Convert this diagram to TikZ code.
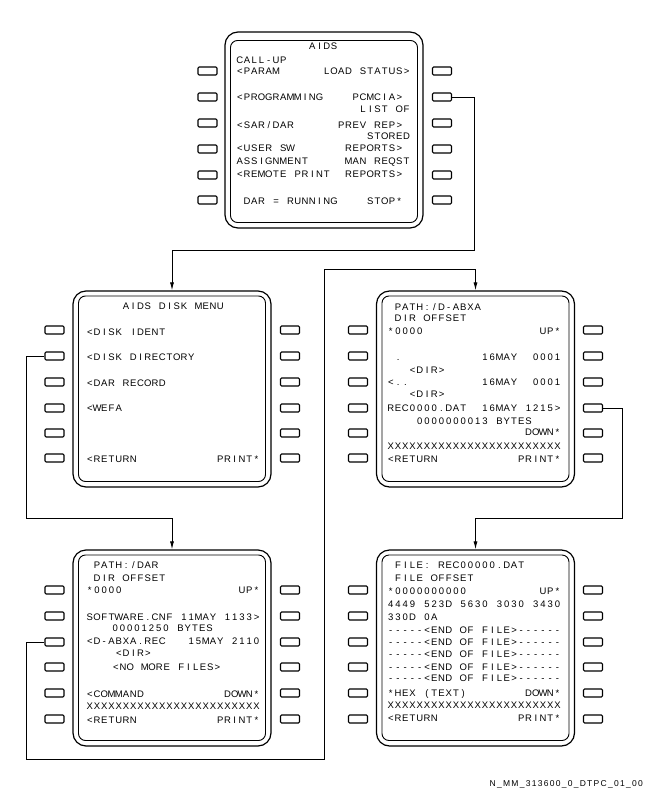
\documentclass[tikz,border=0pt]{standalone}
\usepackage{fontspec}
\newfontfamily\cdufam{Liberation Sans}
\newfontfamily\labfam[LetterSpace=15]{Liberation Sans}
\newcommand\cdufont{\cdufam\fontsize{9.5}{11}\selectfont}
\newcommand\monopitch{7.25pt}
\ExplSyntaxOn
\NewDocumentCommand \mono { m }
  { \str_map_inline:nn {#1} { \makebox[\monopitch]{##1} } }
\ExplSyntaxOff
\usetikzlibrary{arrows.meta}
\tikzset{
  outerframe/.style={draw, line width=1.2pt, rounded corners=13pt, minimum width=198pt, minimum height=196pt, inner sep=0pt},
  innerframe/.style={draw, line width=0.9pt, rounded corners=7pt, minimum width=187pt, inner sep=0pt},
  btn/.style={draw, line width=1.1pt, rounded corners=1.2pt, minimum width=19pt, minimum height=8pt, inner sep=0pt},
  conn/.style={line width=0.9pt},
  arr/.style={conn, -{Latex[length=8pt,width=4pt]}},
  L/.style={anchor=base west, inner sep=0pt, font=\cdufont},
}
% \mkpanel{name}{cx}{cy}{gap between outer and inner frame at the top}
\newcommand\mkpanel[4]{%
  \node[outerframe] (#1) at (#2,#3) {};
  \node[innerframe, minimum height={190.5pt-#4pt}] (#1-in) at (#2,{#3+(#4-5.5)/2}) {};}
\newcommand\mkbuttons[4]{%
  \foreach \yy [count=\ii] in {#4} {
    \node[btn] (#1-l\ii) at (#2,\yy) {};
    \node[btn] (#1-r\ii) at (#3,\yy) {};
  }}
% \tx{name}{x0}{column}{baseline y}{text}
\newcommand\tx[5]{\node[L] (#1) at (#2+7.25*#3,#4) {\mono{#5}};}
\begin{document}
\begin{tikzpicture}[x=1pt,y=-1pt]
\useasboundingbox (0,0) rectangle (648,792);
% panels
\mkpanel{t}{324}{130}{8.5}
\mkpanel{ml}{172}{389}{5}
\mkpanel{mr}{475.5}{389}{5}
\mkpanel{bl}{172}{648}{5}
\mkpanel{br}{475.5}{648}{5}
\mkbuttons{t}{207.5}{442}{71,97,123,149,175,200}
\mkbuttons{ml}{54.5}{290}{330,356,382,408,433,458}
\mkbuttons{mr}{358}{593}{330,356,382,408,433,458}
\mkbuttons{bl}{54.5}{290}{590,616,642,667,693,719}
\mkbuttons{br}{358}{593}{590,616,642,667,693,719}

% connectors
\coordinate (k1) at (474,250);
\coordinate (k2) at (26,518);
\coordinate (k3) at (26,759);
\coordinate (k4) at (324,269);
\coordinate (k5) at (622,518);
\draw[arr] (t-r2.east) -| (k1) -| (ml.north);
\draw[arr] (ml-l2.west) -| (k2) -| (bl.north);
\draw[arr] (bl-l3.west) -| (k3) -| (k4) -| (mr.north);
\draw[arr] (mr-r4.east) -| (k5) -| (br.north);

% top panel text (grid origin 236)
\tx{t1}{236}{10}{50}{AIDS}
\tx{t2}{236}{0}{63.5}{CALL-UP}
\tx{t3}{236}{0}{74.5}{<PARAM}
\tx{t4}{236}{12}{74.5}{LOAD STATUS>}
\tx{t5}{236}{0}{100.5}{<PROGRAMMING}
\tx{t6}{236}{16}{100.5}{PCMCIA>}
\tx{t7}{236}{17}{112.5}{LIST OF}
\tx{t8}{236}{0}{128.5}{<SAR/DAR}
\tx{t9}{236}{14}{128.5}{PREV REP>}
\tx{t10}{236}{18}{139.5}{STORED}
\tx{t11}{236}{0}{151.5}{<USER SW}
\tx{t12}{236}{15}{151.5}{REPORTS>}
\tx{t13}{236}{0}{164.5}{ASSIGNMENT}
\tx{t14}{236}{15}{164.5}{MAN REQST}
\tx{t15}{236}{0}{177.5}{<REMOTE PRINT}
\tx{t16}{236}{15}{177.5}{REPORTS>}
\tx{t17}{236}{1}{204.5}{DAR = RUNNING}
\tx{t18}{236}{18}{204.5}{STOP*}

% middle left (grid origin 86)
\tx{a1}{86}{5}{309.5}{AIDS DISK MENU}
\tx{a2}{86}{0}{335.5}{<DISK IDENT}
\tx{a3}{86}{0}{360.5}{<DISK DIRECTORY}
\tx{a4}{86}{0}{386.5}{<DAR RECORD}
\tx{a5}{86}{0}{411.5}{<WEFA}
\tx{a6}{86}{0}{462.5}{<RETURN}
\tx{a7}{86}{18}{462.5}{PRINT*}

% middle right (grid origin 387)
\tx{b1}{387}{1}{310.5}{PATH:/D-ABXA}
\tx{b2}{387}{1}{321.5}{DIR OFFSET}
\tx{b3}{387}{0}{334.5}{*0000}
\tx{b4}{387}{21}{334.5}{UP*}
\tx{b5}{387}{1}{360.5}{.}
\tx{b6}{387}{13}{360.5}{16MAY}
\tx{b7}{387}{20}{360.5}{0001}
\tx{b8}{387}{3}{373.5}{<DIR>}
\tx{b9}{387}{0}{385.5}{<..}
\tx{b10}{387}{13}{385.5}{16MAY}
\tx{b11}{387}{20}{385.5}{0001}
\tx{b12}{387}{3}{397.5}{<DIR>}
\tx{b13}{387}{0}{411.5}{REC0000.DAT}
\tx{b14}{387}{13}{411.5}{16MAY}
\tx{b15}{387}{19}{411.5}{1215>}
\tx{b16}{387}{4}{424.5}{0000000013 BYTES}
\tx{b17}{387}{19}{435.5}{DOWN*}
\tx{b18}{387}{0}{449.5}{XXXXXXXXXXXXXXXXXXXXXXXX}
\tx{b19}{387}{0}{462.5}{<RETURN}
\tx{b20}{387}{18}{462.5}{PRINT*}

% bottom left (grid origin 86)
\tx{c1}{86}{1}{568.5}{PATH:/DAR}
\tx{c2}{86}{1}{581.5}{DIR OFFSET}
\tx{c3}{86}{0}{593.5}{*0000}
\tx{c4}{86}{21}{593.5}{UP*}
\tx{c5}{86}{0}{620.5}{SOFTWARE.CNF}
\tx{c6}{86}{13}{620.5}{11MAY}
\tx{c7}{86}{19}{620.5}{1133>}
\tx{c8}{86}{3.5}{631.5}{00001250 BYTES}
\tx{c9}{86}{0}{644.5}{<D-ABXA.REC}
\tx{c10}{86}{14}{644.5}{15MAY}
\tx{c11}{86}{20}{644.5}{2110}
\tx{c12}{86}{4}{656.5}{<DIR>}
\tx{c13}{86}{3.6}{670.5}{<NO MORE FILES>}
\tx{c14}{86}{0}{697.5}{<COMMAND}
\tx{c15}{86}{19}{697.5}{DOWN*}
\tx{c16}{86}{0}{709.5}{XXXXXXXXXXXXXXXXXXXXXXXX}
\tx{c17}{86}{0}{723.5}{<RETURN}
\tx{c18}{86}{18}{723.5}{PRINT*}

% bottom right (grid origin 387)
\tx{d1}{387}{1}{568.5}{FILE: REC00000.DAT}
\tx{d2}{387}{1}{581.5}{FILE OFFSET}
\tx{d3}{387}{0}{594.5}{*0000000000}
\tx{d4}{387}{21}{594.5}{UP*}
\tx{d5}{387}{0}{607.5}{4449 523D 5630 3030 3430}
\tx{d6}{387}{0}{620.5}{330D 0A}
\foreach \yy [count=\ii] in {633.5,645.5,657.5,670.5,681.5} {
  \tx{e\ii}{387}{0}{\yy}{-----<END OF FILE>------}
}
\tx{d12}{387}{0}{696.5}{*HEX (TEXT)}
\tx{d13}{387}{19}{696.5}{DOWN*}
\tx{d14}{387}{0}{708.5}{XXXXXXXXXXXXXXXXXXXXXXXX}
\tx{d15}{387}{0}{721.5}{<RETURN}
\tx{d16}{387}{18}{721.5}{PRINT*}

% figure label
\node[anchor=base east, inner sep=0pt, font=\labfam\fontsize{8.5}{10}\selectfont] (lab) at (643,786) {N\_MM\_313600\_0\_DTPC\_01\_00};
\end{tikzpicture}
\end{document}
